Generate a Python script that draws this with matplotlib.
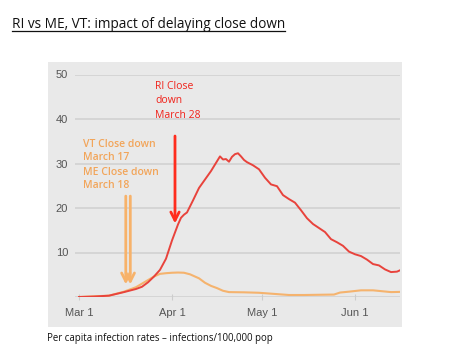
import matplotlib
matplotlib.use('Agg')
import matplotlib.pyplot as plt
from matplotlib.patches import Rectangle
from matplotlib.lines import Line2D

# days since Mar 1
ri_days = [0, 5, 10, 15, 19, 21, 23, 25, 27, 29, 31, 33, 34, 35, 36, 38, 40, 42, 44, 46, 47,
           48, 49, 50, 51, 52, 53, 54, 55, 56, 58, 60, 62, 64, 66, 68, 70, 72, 74, 76, 78,
           80, 82, 84, 86, 88, 90, 92, 94, 96, 98, 100, 102, 104, 106, 107]
ri_vals = [0, 0.1, 0.3, 1.1, 1.8, 2.3, 3.3, 4.6, 6.1, 8.6, 12.7, 16.3, 17.8, 18.5, 19.0, 21.7,
           24.5, 26.4, 28.3, 30.5, 31.6, 30.9, 31.0, 30.4, 31.5, 32.1, 32.3, 31.6, 30.8, 30.3,
           29.6, 28.7, 26.8, 25.3, 24.9, 22.9, 22.0, 21.2, 19.5, 17.7, 16.4, 15.5, 14.6, 13.0,
           12.3, 11.5, 10.2, 9.6, 9.2, 8.4, 7.4, 7.1, 6.2, 5.6, 5.7, 6.0]

vt_days = [0, 10, 15, 19, 21, 23, 25, 27, 29, 31, 33, 35, 37, 40, 42, 44, 46, 48, 50, 55,
           60, 65, 70, 75, 80, 85, 87, 90, 94, 98, 101, 104, 107]
vt_vals = [0, 0.3, 1.2, 2.2, 3.0, 3.8, 4.6, 5.2, 5.35, 5.45, 5.5, 5.45, 5.1, 4.2, 3.2, 2.5,
           2.0, 1.4, 1.1, 1.05, 0.95, 0.7, 0.45, 0.45, 0.5, 0.55, 1.0, 1.2, 1.5, 1.5, 1.3,
           1.1, 1.15]

tick_days = [0, 31, 61, 92]
tick_labels = ['Mar 1', 'Apr 1', 'May 1', 'Jun 1']
y_ticks = [10, 20, 30, 40, 50]

W, H = 468, 351
fig = plt.figure(figsize=(W / 100, H / 100), dpi=100)
fig.patch.set_facecolor('white')

# gray panel behind the chart
fig.patches.append(Rectangle((48 / W, 1 - 327 / H), (402 - 48) / W, (327 - 62) / H,
                             transform=fig.transFigure, facecolor='#e9e9e9',
                             edgecolor='none', zorder=0))

ax = fig.add_axes([75 / W, 1 - 297 / H, 325 / W, 222.5 / H])
ax.set_zorder(2)
ax.set_facecolor('none')
ax.set_xlim(-1.33, 107)
ax.set_ylim(0, 50)
for s in ax.spines.values():
    s.set_visible(False)
ax.set_yticks(y_ticks)
ax.set_xticks(tick_days)
ax.set_xticklabels(tick_labels)
ax.tick_params(axis='y', length=0, pad=5, labelsize=8, labelcolor='#555555')
ax.tick_params(axis='x', length=4, direction='inout', color='#cccccc', pad=6,
               labelsize=8, labelcolor='#555555')
for lab in ax.get_xticklabels() + ax.get_yticklabels():
    lab.set_family('Liberation Sans')
for v in [0] + y_ticks:
    ax.axhline(v, color='#d2d2d2', lw=1.2, zorder=1)

ax.plot(vt_days, vt_vals, color='#f5b36e', lw=1.5, zorder=3)
ax.plot(ri_days, ri_vals, color='#e8433c', lw=1.4, zorder=4)

# arrows
ax.annotate('', xy=(32, 15.9), xytext=(32, 36.8),
            arrowprops=dict(arrowstyle='->', color='#ff2d1e', lw=2, mutation_scale=15))
for d in [15.6, 17.1]:
    ax.annotate('', xy=(d, 2.2), xytext=(d, 23.3),
                arrowprops=dict(arrowstyle='->', color='#f7b26a', lw=2, mutation_scale=15))

tf = 'Open Sans'
ax.text(25.3, 48.6, 'RI Close\ndown\nMarch 28', color='#f0221a', fontsize=7.5,
        family=tf, va='top', ha='left', linespacing=1.45)
ax.text(1.3, 35.6, 'VT Close down\nMarch 17', color='#f2a55a', fontsize=7.5,
        family=tf, fontweight='semibold', va='top', ha='left', linespacing=1.3)
ax.text(1.3, 29.2, 'ME Close down\nMarch 18', color='#f2a55a', fontsize=7.5,
        family=tf, fontweight='semibold', va='top', ha='left', linespacing=1.3)

title = fig.text(12 / W, 1 - 25 / H, 'RI vs ME, VT: impact of delaying close down',
                 fontsize=9.8, family='Open Sans', va='center', ha='left', color='#111111')
fig.text(47 / W, 1 - 338 / H, 'Per capita infection rates \u2013 infections/100,000 pop',
         fontsize=6.9, family='Open Sans', va='center', ha='left', color='#111111')

# underline the title
fig.canvas.draw()
bb = title.get_window_extent().transformed(fig.transFigure.inverted())
fig.add_artist(Line2D([bb.x0, bb.x1], [bb.y0 + 0.004, bb.y0 + 0.004],
                      transform=fig.transFigure, color='#111111', lw=0.9))

fig.savefig('out.png', dpi=100)
